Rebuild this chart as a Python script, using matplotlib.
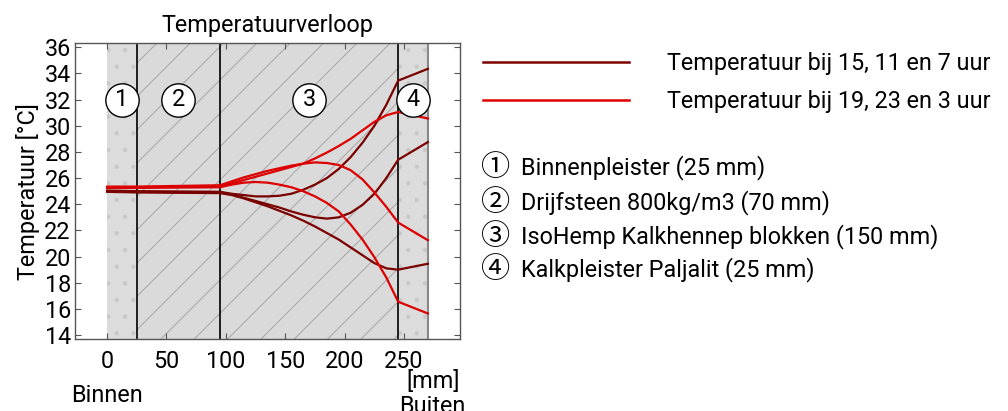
import matplotlib
matplotlib.use('Agg')
import matplotlib.pyplot as plt
from matplotlib.lines import Line2D

plt.rcParams['font.family'] = ['Roboto', 'DejaVu Sans']
plt.rcParams['hatch.linewidth'] = 0.7

# layer edges in mm (binnen -> buiten)
layer_edges = [0, 25, 95, 245, 270]
layer_tags = ['1', '2', '3', '4']
layer_names = ['Binnenpleister (25 mm)', 'Drijfsteen 800kg/m3 (70 mm)',
               'IsoHemp Kalkhennep blokken (150 mm)', 'Kalkpleister Paljalit (25 mm)']
circled = ['\u2460', '\u2461', '\u2462', '\u2463']

# positions through the wall (mm)
pos_mm = [0, 25, 95, 105, 115, 125, 135, 145, 155, 165, 175, 185, 195, 205, 215, 225, 235, 245, 270]

# temperatures at 15, 11 and 7 uur
dark_a = [25.05, 25.0, 24.95, 24.8, 24.7, 24.6, 24.6, 24.65, 24.8, 25.1, 25.5, 26.0, 26.7, 27.6, 28.7, 30.0, 31.6, 33.45, 34.35]
dark_c = [25.0, 24.95, 24.9, 24.75, 24.5, 24.25, 24.0, 23.75, 23.45, 23.2, 23.0, 22.9, 23.0, 23.35, 23.95, 24.8, 26.0, 27.4, 28.75]
dark_e = [24.95, 24.9, 24.85, 24.7, 24.45, 24.15, 23.85, 23.5, 23.15, 22.75, 22.3, 21.8, 21.3, 20.7, 20.1, 19.5, 19.1, 19.0, 19.45]
# temperatures at 19, 23 and 3 uur
red_b = [25.3, 25.3, 25.35, 25.6, 25.85, 26.1, 26.35, 26.6, 26.85, 27.1, 27.5, 27.95, 28.45, 29.0, 29.65, 30.3, 30.8, 31.05, 30.55]
red_d = [25.35, 25.35, 25.45, 25.75, 26.05, 26.3, 26.55, 26.75, 26.95, 27.1, 27.2, 27.15, 27.0, 26.6, 25.9, 24.9, 23.8, 22.6, 21.25]
red_f = [25.25, 25.25, 25.3, 25.5, 25.65, 25.7, 25.65, 25.5, 25.3, 25.0, 24.6, 24.1, 23.45, 22.45, 21.3, 19.95, 18.4, 16.55, 15.65]

dark_series = [dark_a, dark_c, dark_e]
red_series = [red_b, red_d, red_f]
legend_labels = ['Temperatuur bij 15, 11 en 7 uur', 'Temperatuur bij 19, 23 en 3 uur']

dark_col = '#7a0000'
red_col = '#dd0000'
fs = 16.8

fig = plt.figure(figsize=(10.08, 4.11), dpi=100)
ax = fig.add_axes([0.0744, 0.1752, 0.3819, 0.7194])

# wall layers
for i in range(4):
    x0, x1 = layer_edges[i], layer_edges[i + 1]
    if i in (0, 3):
        ax.axvspan(x0, x1, facecolor='#dcdcdc', edgecolor='#c8c8c8', hatch='.', lw=0, zorder=0)
    else:
        ax.axvspan(x0, x1, facecolor='#dadada', edgecolor='#a4a4a4', hatch='/', lw=0, zorder=0)
for x in layer_edges[1:4]:
    ax.axvline(x, color='black', lw=1.2, zorder=1)
ax.axvline(layer_edges[4], color='#888888', lw=1.5, zorder=1)

# tags in circles
for i in range(4):
    xm = (layer_edges[i] + layer_edges[i + 1]) / 2
    ax.plot(xm, 32, 'o', ms=24, mfc='white', mec='black', mew=1.0, zorder=4)
    ax.text(xm, 32, layer_tags[i], ha='center', va='center', fontsize=fs, zorder=5)

for s in dark_series:
    ax.plot(pos_mm, s, color=dark_col, lw=1.6, zorder=3)
for s in red_series:
    ax.plot(pos_mm, s, color=red_col, lw=1.6, zorder=3)

ax.set_xlim(-27, 297)
ax.set_ylim(13.7, 36.3)
ax.set_xticks([0, 50, 100, 150, 200, 250])
ax.set_yticks(range(14, 37, 2))
ax.tick_params(direction='in', top=True, right=True, length=4, width=0.8,
               color='#555555', labelsize=fs)
ax.tick_params(axis='x', pad=8)
ax.tick_params(axis='y', pad=3)
for sp in ax.spines.values():
    sp.set_color('#555555')
    sp.set_linewidth(1.0)

ax.set_title('Temperatuurverloop', fontsize=fs, pad=8)
ax.set_ylabel('Temperatuur [\u00b0C]', fontsize=fs, labelpad=3)
ax.text(1.0, -0.145, '[mm]', transform=ax.transAxes, ha='right', va='center', fontsize=fs)
ax.text(0, -0.19, 'Binnen', transform=ax.get_xaxis_transform(), ha='center', va='center', fontsize=fs)
ax.text(274, -0.23, 'Buiten', transform=ax.get_xaxis_transform(), ha='center', va='center', fontsize=fs)

# legend
handles = [Line2D([], [], color=dark_col, lw=1.8), Line2D([], [], color=red_col, lw=1.8)]
fig.legend(handles, legend_labels, loc='upper left', bbox_to_anchor=(0.479, 0.874),
           frameon=False, fontsize=fs, handlelength=6.27, handletextpad=1.63,
           labelspacing=0.66, borderpad=0, borderaxespad=0)

list_y = [167.7, 203, 236.7, 270]
for c, name, yp in zip(circled, layer_names, list_y):
    fy = 1 - yp / 411
    fig.text(0.477, fy, c, fontsize=21, family=['Noto Sans CJK JP', 'DejaVu Sans'],
             ha='left', va='center')
    fig.text(0.517, fy, name, fontsize=fs, ha='left', va='center')

fig.savefig('out.png', dpi=100)
